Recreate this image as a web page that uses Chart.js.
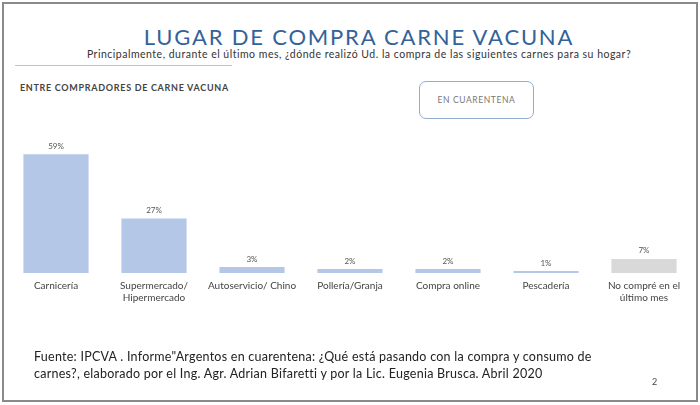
<!DOCTYPE html>
<html>
<head>
<meta charset="utf-8">
<script src="https://cdn.jsdelivr.net/npm/chart.js@4.4.0/dist/chart.umd.min.js"></script>
<style>
  html, body { margin:0; padding:0; background:#fff; }
  body { width:700px; height:405px; position:relative; overflow:hidden; font-family:"Lato","Open Sans",sans-serif; }
  #frame { position:absolute; left:2px; top:2px; width:692px; height:396px; border:2px solid #8a8a8a; box-sizing:content-box; }
  .t { position:absolute; white-space:nowrap; }
  #title { left:0; width:718px; text-align:center; top:23px; font-size:22px; letter-spacing:1.8px; color:#33629a; font-weight:400; }
  #sub { left:0; width:718px; text-align:center; top:48px; font-size:10.5px; letter-spacing:0.5px; color:#333; }
  #line { position:absolute; left:15px; top:65px; width:217px; height:1px; background:#b3c6de; }
  #entre { left:20px; top:82px; font-size:9px; font-weight:700; color:#444; letter-spacing:0.7px; }
  #box { position:absolute; left:419px; top:81px; width:115px; height:38px; border:1px solid #93abcf; border-radius:7px; box-sizing:border-box; display:flex; align-items:center; justify-content:center; font-size:8.5px; color:#777; letter-spacing:0.6px; }
  #foot1 { left:34px; top:349px; font-size:12.5px; letter-spacing:0.25px; color:#222; }
  #foot2 { left:34px; top:366px; font-size:12.5px; letter-spacing:0.25px; color:#222; }
  #page { left:652px; top:376px; font-size:9px; color:#444; }
  canvas { position:absolute; left:0; top:0; }
</style>
</head>
<body>
<div id="frame"></div>
<div class="t" id="title">LUGAR DE COMPRA CARNE VACUNA</div>
<div class="t" id="sub">Principalmente, durante el último mes, ¿dónde realizó Ud. la compra de las siguientes carnes para su hogar?</div>
<div id="line"></div>
<div class="t" id="entre">ENTRE COMPRADORES DE CARNE VACUNA</div>
<div id="box">EN CUARENTENA</div>
<canvas id="c" width="700" height="405"></canvas>
<div class="t" id="foot1">Fuente: IPCVA . Informe"Argentos en cuarentena: ¿Qué está pasando con la compra y consumo de</div>
<div class="t" id="foot2">carnes?, elaborado por el Ing. Agr. Adrian Bifaretti y por la Lic. Eugenia Brusca. Abril 2020</div>
<div class="t" id="page">2</div>
<script>
const categories = [
  "Carnicería",
  ["Supermercado/", "Hipermercado"],
  "Autoservicio/ Chino",
  "Pollería/Granja",
  "Compra online",
  "Pescadería",
  ["No compré en el", "último mes"]
];
const values = [59, 27, 3, 2, 2, 1, 7];
const valueLabels = ["59%", "27%", "3%", "2%", "2%", "1%", "7%"];
const barColors = ["#b4c7e7", "#b4c7e7", "#b4c7e7", "#b4c7e7", "#b4c7e7", "#b4c7e7", "#d9d9d9"];

const valuePlugin = {
  id: 'valueLabels',
  afterDatasetsDraw(chart) {
    const ctx = chart.ctx;
    const meta = chart.getDatasetMeta(0);
    ctx.save();
    ctx.font = '8px Lato, "Open Sans", sans-serif';
    ctx.fillStyle = '#555';
    ctx.textAlign = 'center';
    ctx.textBaseline = 'bottom';
    meta.data.forEach((bar, i) => {
      ctx.fillText(valueLabels[i], bar.x, bar.y - 4);
    });
    ctx.restore();
  }
};

new Chart(document.getElementById('c'), {
  type: 'bar',
  data: {
    labels: categories,
    datasets: [{
      data: values,
      backgroundColor: barColors,
      borderWidth: 0,
      barPercentage: 0.665,
      categoryPercentage: 1
    }]
  },
  options: {
    responsive: false,
    animation: false,
    events: [],
    layout: { padding: { left: 7, right: 7, top: 132, bottom: 94 } },
    plugins: { legend: { display: false }, tooltip: { enabled: false } },
    scales: {
      x: {
        grid: { display: false, drawTicks: false },
        border: { display: false },
        ticks: {
          color: '#444',
          font: { size: 10, family: 'Lato, "Open Sans", sans-serif' },
          padding: 7,
          maxRotation: 0,
          autoSkip: false
        }
      },
      y: { display: false, min: 0, max: 70 }
    }
  },
  plugins: [valuePlugin]
});
</script>
</body>
</html>
